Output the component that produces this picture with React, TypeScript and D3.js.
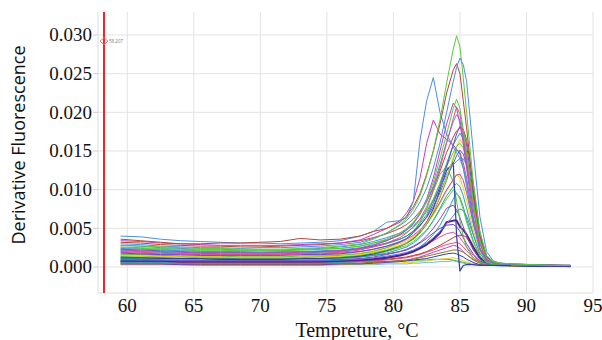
import React from "react";
import * as d3 from "d3";

// Temperatures (°C) at which each derivative value was read
const temps = [59.5, 61, 62.5, 64, 65.5, 67, 68.5, 70, 71.5, 73, 74.5, 76, 77.5, 78.5, 79.5, 80.5, 81, 81.5, 82, 82.5, 83, 83.5, 84, 84.5, 84.75, 85, 85.25, 85.5, 86, 86.5, 87, 87.5, 88, 89, 90.5, 92, 93.3];

// Derivative fluorescence readings, in units of 1e-4
const greenTall = [28,27,26,25,24,24,23,23,23,24,25,27,30,36,44,55,63,75,92,118,150,190,238,282,299,285,245,200,110,45,15,7,5,4,3,2,2];
const blueTall = [30,29,27,26,25,25,24,25,25,26,27,29,32,37,44,54,60,70,84,102,128,160,200,240,258,270,262,240,150,65,20,8,5,4,3,2,2];
const redTall = [36,34,32,30,30,31,31,32,33,37,35,36,40,46,50,58,66,78,95,120,150,185,225,255,263,250,215,180,100,40,14,7,5,4,3,2,2];
const blueEarly = [40,39,36,34,33,32,31,31,30,31,32,34,40,46,58,60,64,85,164,215,245,200,172,155,148,140,128,110,60,22,8,5,4,3,3,2,2];
const magentaEarly = [34,33,31,30,29,28,28,28,28,29,30,31,35,42,50,60,70,85,115,160,190,172,165,158,152,148,135,115,62,24,9,5,4,3,2,2,2];
const green2 = [26,25,24,23,22,22,21,21,21,22,23,24,27,31,36,44,50,58,70,86,110,140,172,205,217,205,178,148,82,34,12,6,4,3,3,2,2];
const magenta2 = [22,21,20,19,18,18,18,18,18,19,20,21,24,28,34,42,48,57,70,88,115,150,185,212,205,185,160,128,65,25,9,5,4,3,2,2,2];
const pink2 = [20,19,18,17,17,16,16,16,16,17,18,19,22,26,31,38,44,52,62,78,100,128,160,192,207,198,172,140,76,30,10,5,4,3,2,2,2];
const blue2 = [24,23,22,21,20,20,20,19,20,20,21,22,25,29,34,42,48,56,68,84,105,132,162,188,197,190,166,136,74,30,10,5,4,3,2,2,2];
const purple2 = [18,17,16,16,15,15,15,15,15,16,16,17,20,23,27,33,37,44,53,65,82,104,130,158,172,182,176,158,95,40,13,6,4,3,2,2,2];
const teal2 = [21,20,19,18,18,17,17,17,17,18,19,20,23,26,30,36,40,47,56,68,86,108,134,158,166,173,166,148,88,36,12,6,4,3,2,2,2];
const yellow2 = [15,14,14,13,13,13,12,12,12,13,13,14,16,19,23,28,32,38,46,57,72,92,116,142,156,165,158,140,82,34,11,5,4,3,2,2,2];
const purpleBlue = [23,22,21,20,19,19,19,19,19,20,20,21,24,27,31,36,40,46,54,64,78,96,116,134,144,151,146,132,80,32,11,5,4,3,2,2,2];
const green3 = [14,14,13,13,12,12,12,12,12,12,13,13,15,18,22,27,31,36,44,55,70,90,112,140,152,146,128,104,58,24,9,5,4,3,2,2,2];
const navySteep = [12,12,11,11,11,10,10,10,10,11,11,12,14,17,21,27,31,37,46,58,75,100,125,135,40,-5,2,3,3,2,2,2,2,2,1,1,1];
const green4 = [12,12,11,11,11,10,10,10,10,11,11,12,14,16,20,25,28,33,40,48,60,74,88,100,96,88,74,58,32,14,6,4,3,3,2,2,2];
const purple3 = [10,10,9,9,9,9,9,9,9,9,9,10,11,13,16,20,23,27,32,40,50,62,76,80,74,64,52,40,22,10,5,4,3,2,2,2,1];
const darkPurple = [8,8,8,7,7,7,7,7,7,7,7,8,9,10,12,15,17,20,24,29,36,44,58,60,60,52,48,42,26,12,5,4,3,2,2,2,1];
const pink3 = [9,9,8,8,8,8,8,8,8,8,8,9,10,11,13,16,18,21,25,29,34,39,43,45,42,38,32,26,15,7,4,3,3,2,2,2,1];
const red3 = [7,7,7,6,6,6,6,6,6,6,6,7,8,9,10,12,13,15,17,20,24,28,33,38,40,41,41,38,24,10,5,3,3,2,2,2,1];
const greenEarly = [16,16,15,14,14,14,13,13,13,14,14,15,17,20,25,32,37,45,58,75,98,120,130,110,85,60,40,25,12,6,4,3,3,2,2,2,2];
const yellow3 = [17,16,15,15,14,14,14,14,14,15,15,16,18,21,25,30,34,39,46,55,67,82,98,114,120,115,102,86,48,20,8,4,3,3,2,2,2];
const teal3 = [6,6,6,5,5,5,5,5,5,5,5,6,7,9,12,15,18,21,26,33,42,54,70,88,95,90,78,62,34,14,6,4,3,2,2,2,1];
const olive = [5,5,5,5,4,4,4,4,4,4,4,5,5,6,7,8,9,10,12,14,16,18,20,22,22,21,19,16,10,5,3,3,2,2,2,1,1];
const magenta4 = [4,4,4,4,4,4,4,4,4,4,4,4,5,6,7,8,9,11,13,16,19,22,25,28,27,24,20,16,9,5,3,2,2,2,2,1,1];
const navy2 = [4,4,4,3,3,3,3,3,3,3,3,4,4,5,6,7,8,9,10,11,13,15,17,18,17,15,13,10,6,3,2,2,2,2,1,1,1];
const yellow4 = [3,3,3,3,3,3,3,3,3,3,3,3,4,4,5,5,6,6,7,8,9,10,11,12,11,10,8,7,4,3,2,2,2,1,1,1,1];
const green5 = [7,7,6,6,6,6,6,6,6,6,6,6,7,7,7,8,8,8,9,9,10,10,10,9,8,7,6,5,4,3,2,2,2,1,1,1,1];
const blue3 = [28,27,25,24,23,23,22,22,22,23,24,26,29,33,38,44,48,54,62,72,86,102,120,132,137,140,140,132,90,38,12,6,4,3,2,2,2];
const red2 = [32,31,29,28,27,27,26,26,27,28,29,31,34,38,43,50,55,62,72,85,102,124,148,168,176,180,178,165,108,45,14,6,4,3,3,2,2];
const green6 = [25,24,23,22,21,21,21,21,21,22,23,24,27,31,35,41,45,51,60,72,88,108,130,148,156,160,154,138,84,34,11,5,4,3,2,2,2];
const magenta3 = [19,18,17,17,16,16,16,16,16,17,17,18,20,23,27,32,36,41,48,57,69,84,100,113,119,120,112,96,56,23,8,5,4,3,2,2,2];
const lightBlueLow = [3,3,3,3,2,2,2,2,2,2,2,3,3,3,4,4,4,5,5,6,6,7,7,8,7,6,5,4,3,2,2,2,1,1,1,1,1];
const pinkLow = [6,6,6,5,5,5,5,5,5,5,5,6,7,8,9,11,12,14,16,19,22,26,29,31,32,30,26,21,12,6,3,3,2,2,2,1,1];
const teal4 = [11,11,10,10,10,10,10,10,10,10,10,11,13,15,18,23,26,31,38,47,60,76,92,104,108,104,92,76,42,17,7,4,3,3,2,2,2];
const purple4 = [13,12,12,11,11,11,11,11,11,11,11,12,13,15,17,20,22,26,31,37,44,50,54,55,52,46,38,30,17,8,4,3,3,2,2,2,1];
const blue4 = [9,9,9,8,8,8,8,8,8,8,8,9,10,12,14,17,19,22,26,31,38,46,56,66,72,75,73,66,42,18,7,4,3,2,2,2,1];

const series = [
  lightBlueLow, green5, yellow4, navy2, magenta4, olive, pinkLow, red3, pink3, teal3,
  purple4, darkPurple, blue4, purple3, green4, teal4, yellow3, greenEarly, navySteep,
  magenta3, green3, purpleBlue, blue3, yellow2, teal2, green6, purple2, red2,
  blue2, pink2, magenta2, green2, magentaEarly, blueEarly, redTall, blueTall, greenTall,
];
const seriesColors = [
  "#6fb6ee", "#4caf3a", "#e0d020", "#2e3fa8", "#c23fc0", "#8a7a20", "#e0508a", "#c0392b", "#e0508a", "#2ba39c",
  "#6a45c8", "#5b1c8c", "#4a7fd8", "#7a4cc8", "#5ac840", "#2ba39c", "#e2d31a", "#4fbf3a", "#2e3fa8",
  "#c23fc0", "#3aa83a", "#5a50c0", "#4a90e2", "#e2d31a", "#2ba39c", "#5ac840", "#6a45c8", "#b5473a",
  "#4a90e2", "#e0508a", "#c23fc0", "#5ac840", "#c23fc0", "#4a90e2", "#b5473a", "#4a90e2", "#5ac840",
];
const seriesWidths = [1, 1, 1, 1, 1, 1, 1, 1, 1, 1, 1, 2, 1, 1, 1, 1, 1, 1, 1.2, 1, 1, 1, 1, 1, 1, 1, 1, 1, 1, 1, 1, 1, 1, 1, 1, 1, 1];

const VALUE_UNIT = 1e-4;
const xTicks = [60, 65, 70, 75, 80, 85, 90, 95];
const yTicks = [0, 0.005, 0.01, 0.015, 0.02, 0.025, 0.03];
const markerTemp = 58.25;
const markerValue = 0.0292;
const markerLabel = "58.207";

export default function App() {
  const W = 602, H = 340;
  const x = d3.scaleLinear().domain([57.8, 95]).range([98, 593]);
  const y = d3.scaleLinear().domain([-0.00336, 0.03297]).range([293, 12]);
  const line = d3
    .line<number>()
    .x((_, i) => x(temps[i]))
    .y((v) => y(v * VALUE_UNIT));
  const serif = "'Liberation Serif', serif";
  const sans = "'Open Sans', sans-serif";
  const mx = x(markerTemp);
  const my = y(markerValue);
  return (
    <svg width={W} height={H} style={{ position: "absolute", left: 0, top: 0, background: "#fff" }}>
      {/* grid */}
      {xTicks.map((t) => (
        <line key={"gx" + t} x1={x(t)} x2={x(t)} y1={12} y2={293} stroke="#e3e3e3" strokeWidth={1} />
      ))}
      {yTicks.map((t) => (
        <line key={"gy" + t} x1={98} x2={593} y1={y(t)} y2={y(t)} stroke="#e3e3e3" strokeWidth={1} />
      ))}
      <line x1={98} x2={98} y1={12} y2={293} stroke="#dcdcdc" />
      <line x1={98} x2={593} y1={293} y2={293} stroke="#dcdcdc" />
      {yTicks.map((t) => (
        <line key={"ty" + t} x1={93} x2={98} y1={y(t)} y2={y(t)} stroke="#cfcfcf" />
      ))}
      {/* curves */}
      {series.map((s, i) => (
        <path key={i} d={line(s) || ""} fill="none" stroke={seriesColors[i]} strokeWidth={seriesWidths[i]} strokeLinejoin="round" />
      ))}
      {/* marker */}
      <line x1={mx} x2={mx} y1={12} y2={293} stroke="#e8272a" strokeWidth={2} />
      <path d={`M${mx - 4},${my} L${mx},${my - 3.5} L${mx + 4},${my} L${mx},${my + 3.5} Z`} fill="none" stroke="#ea7a7a" strokeWidth={1} />
      <text x={mx + 5} y={my + 1.5} fontSize={4.5} fill="#777" fontFamily={sans}>{markerLabel}</text>
      {/* tick labels */}
      {yTicks.map((t) => (
        <text key={"ly" + t} x={92} y={y(t)} dy="0.34em" textAnchor="end" fontSize={19} fontFamily={serif} fill="#111">
          {d3.format(".3f")(t)}
        </text>
      ))}
      {xTicks.map((t) => (
        <text key={"lx" + t} x={x(t)} y={312} textAnchor="middle" fontSize={19} fontFamily={serif} fill="#111">
          {t}
        </text>
      ))}
      <text x={357} y={337} textAnchor="middle" fontSize={20} fontFamily={serif} fill="#111">Tempreture, °C</text>
      <text transform="translate(25,145) rotate(-90)" textAnchor="middle" fontSize={18} fontFamily={sans} fill="#111">
        Derivative Fluorescence
      </text>
    </svg>
  );
}
